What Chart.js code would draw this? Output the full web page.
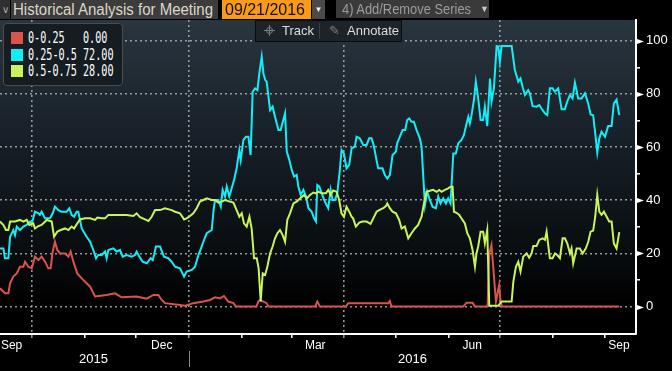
<!DOCTYPE html>
<html>
<head>
<meta charset="utf-8">
<script src="https://cdn.jsdelivr.net/npm/chart.js@4.4.1/dist/chart.umd.min.js"></script>
<style>
  html, body { margin: 0; padding: 0; background: #000; }
  #wrap { position: relative; width: 672px; height: 371px; overflow: hidden; background: #000;
    font-family: 'Liberation Sans', sans-serif; }
  #chart { position: absolute; left: 0; top: 0; }
  .box { position: absolute; top: 0; height: 19px; line-height: 19px; white-space: nowrap; overflow: hidden; }
  .fit { display: inline-block; white-space: nowrap; transform-origin: 0 50%; }
  #chev { left: 0; width: 10px; background: #2f2f2f; color: #aaa; font-size: 10px; text-align: center; }
  #title { left: 11px; width: 205px; background: #3c3c3c; color: #ddd7c9; font-size: 16px; padding-left: 2px; }
  #date { left: 222px; width: 86px; background: #f99a1c; color: #111; font-size: 16px; padding-left: 3px; }
  #drop { left: 312px; width: 13px; background: #4a4a4a; color: #eee; font-size: 8px; text-align: center; }
  #series { left: 336px; width: 147px; height: 18px; line-height: 18px; background: #3a3a3a; color: #9c9c9c; font-size: 15px; padding-left: 6px; }
  #seriesArrow { position: absolute; left: 144px; top: 0; font-size: 9px; color: #c8c8c8; }
  #tools { position: absolute; left: 255px; top: 20px; width: 145px; height: 20px; background: #1c242a;
    border: 1px solid #0b0b0b; color: #dcdcdc; font-size: 13px; line-height: 20px; }
  #tools span { position: absolute; top: 0; }
  #cross { position: absolute; left: 8px; top: 4px; width: 11px; height: 11px; }
  #cross::before { content: ''; position: absolute; left: 5px; top: 0; width: 1px; height: 11px; background: #7c7c7c; }
  #cross::after { content: ''; position: absolute; left: 0; top: 5px; width: 11px; height: 1px; background: #7c7c7c; }
  #ring { position: absolute; left: 2px; top: 2px; width: 5px; height: 5px; border: 1px solid #7c7c7c; border-radius: 50%; }
  #pencil { color: #7c7c7c; }
  #sep { position: absolute; left: 63px; top: 2px; width: 1px; height: 16px; background: #3a4248; }
  #legend { position: absolute; left: 3px; top: 23px; width: 118px; height: 61px; background: #151c22;
    border: 1px solid #4d4d4d; border-radius: 4px; color: #fff; font-family: 'DejaVu Sans Mono', monospace; font-size: 15px; }
  .row { position: absolute; left: 0; height: 16px; line-height: 16px; width: 118px; }
  .sw { position: absolute; left: 7px; top: 2px; width: 12px; height: 12px; }
  .nm { position: absolute; left: 24px; }
  .vl { position: absolute; left: 79px; }
</style>
</head>
<body>
<div id="wrap">
  <canvas id="chart" width="672" height="371"></canvas>
  <div class="box" id="chev">∨</div>
  <div class="box" id="title"><span class="fit" id="titleText">Historical Analysis for Meeting</span></div>
  <div class="box" id="date"><span class="fit" id="dateText">09/21/2016</span></div>
  <div class="box" id="drop">▼</div>
  <div class="box" id="series"><span class="fit" id="seriesText">4) Add/Remove Series</span><span id="seriesArrow">▼</span></div>
  <div id="tools">
    <div id="cross"><div id="ring"></div></div><span style="left:26px">Track</span>
    <div id="sep"></div>
    <span id="pencil" style="left:73px">✎</span><span style="left:91px">Annotate</span>
  </div>
  <div id="legend"></div>
</div>
<script>
// days counted from 2015-09-01
const DAY0 = Date.UTC(2015, 8, 1);
const dayOf = (y, m, d) => (Date.UTC(y, m - 1, d) - DAY0) / 864e5;

const X_MIN = 11.2;
const X_MAX = 384;
const Y_MIN = -10.3;
const Y_MAX = 107.8;

const seriesNames = ['0-0.25', '0.25-0.5', '0.5-0.75'];
const lastValues = ['0.00', '72.00', '28.00'];
const seriesColors = ['#dc534c', '#12eef8', '#c8f55a'];

const monthLabels = ['Sep', 'Dec', 'Mar', 'Jun', 'Sep'];
const monthLabelDays = [18, 106, 196, 288, 374];
const yearLabels = ['2015', '2016'];
const yearLabelDays = [66, 253];
const yTicks = [0, 10, 20, 30, 40, 50, 60, 70, 80, 90, 100];

// probability (%) per rate range, [day, value]
const lowRange = [
  [11.2, 6.9], [14.1, 5.0], [16.1, 5.0], [17.1, 8.8], [19, 11.3], [21, 12.5], [22.9, 15], [24.9, 15],
  [25.9, 16.9], [27.8, 15], [29.8, 14.4], [31.7, 18.8], [33.7, 17.5], [35.6, 18.8], [37.6, 16.9],
  [39.5, 14.4], [40.9, 14.4], [41.9, 20], [43.4, 24.4], [44.8, 21.3], [46.4, 20], [49.3, 20],
  [51.3, 18.8], [52.6, 20.7], [54.2, 16.9], [56.5, 12.5], [59.1, 10.6], [64, 7.5], [66.9, 3.8],
  [73.7, 4.4], [78.6, 5.0], [82.5, 3.5], [91.3, 3.8], [97.2, 3.0], [101.1, 4.4], [104, 4.4],
  [106, 2.5], [107.9, 1.3], [116.7, 0.6], [119.7, 0.3], [124.5, 1.3], [130.4, 1.9], [134.3, 2.5],
  [137.2, 3.5], [140.2, 3.1], [142.5, 4.0], [145, 1.9], [148, 1.3], [149.5, 0], [161.5, 0],
  [162.6, 1.9], [163.6, 2.5], [167.5, 1.3], [168.5, 0], [196, 0], [197.2, 1.9], [198.8, 0],
  [214, 0], [215.3, 1.3], [238.8, 1.3], [239.7, 2.1], [240.7, 0], [282.7, 0], [284.7, 1.5],
  [288.2, 1.5], [289.6, 0], [297, 0], [298, 20], [299.3, 23.2], [301.9, 1.9], [303.8, 8.1],
  [304.6, 1.9], [305.4, 0], [374.2, 0]
];

const midRange = [
  [11.2, 21.9], [13.2, 21.9], [14.1, 18.2], [16.1, 18.2], [17.1, 26.3], [19, 28.8], [20, 26.9],
  [21, 30.1], [22.9, 28.8], [24.9, 30.1], [26.8, 30.7], [28.8, 32], [29.8, 31.3], [30.7, 33.2],
  [31.7, 35.7], [33.7, 35.1], [34.6, 34.5], [35.6, 35.7], [37.6, 33.2], [40.5, 33.2], [42.1, 35.1],
  [43.4, 37.6], [45.4, 36.3], [47.3, 35.7], [50.3, 35.7], [51.8, 37], [53.2, 34.5], [54.6, 33.8],
  [56.1, 35.7], [57.1, 35.7], [59.1, 29.4], [62, 26.3], [64, 24.4], [65.9, 21.3], [67.5, 18.2],
  [68.8, 19.4], [70.8, 19.4], [72.8, 20.7], [73.7, 18.2], [74.7, 21.3], [77.6, 21.9], [79.6, 20.7],
  [81.5, 21.3], [83.1, 18.8], [85.4, 19.4], [88.4, 18.8], [90.3, 19.4], [91.3, 20.7], [92.9, 18.8],
  [94.8, 16.9], [97.2, 16.3], [99.5, 18.2], [100.7, 17.5], [101.5, 19.4], [102.6, 22.6], [105, 22.6],
  [107.3, 18.8], [109.9, 18.2], [111.8, 16.9], [113.8, 15], [116.7, 14.4], [119.1, 11.3],
  [120.6, 13.2], [123.6, 13.8], [125.5, 15], [127.5, 19.4], [129.4, 22.6], [130.4, 24.4],
  [132.4, 27.6], [135.3, 28.8], [136.3, 35.7], [137.2, 40.1], [139.2, 40.1], [140.6, 37.6],
  [141.7, 43.9], [143.1, 41.4], [144.1, 45.1], [145.6, 41.4], [147, 44.5], [148.4, 47.6],
  [149.9, 52], [151.5, 58.9], [152.3, 55.1], [153.9, 62.7], [155.4, 63.9], [156.8, 63.9],
  [158.1, 57], [159.3, 80.8], [160.7, 82.1], [162.1, 81.4], [163.2, 87.7], [164.6, 94],
  [165.6, 87.7], [166.7, 85.2], [167.5, 84.6], [169.5, 73.9], [171, 75.2], [172.4, 71.4],
  [174.4, 66.4], [175.7, 66.4], [178.3, 72.7], [179.3, 58.3], [180.8, 55.1], [182.2, 51.4],
  [183.6, 48.9], [185.1, 49.5], [186.1, 45.1], [187.5, 42], [189, 43.9], [190.6, 41.4], [192, 37],
  [193.9, 35.7], [195.3, 33.2], [196.4, 32], [197.2, 45.7], [198.4, 45.1], [199.8, 42.6],
  [201.6, 39.5], [203.6, 37], [205, 43.9], [206.1, 40.1], [207.5, 40.1], [208.9, 42.6],
  [210.4, 51.4], [211.4, 58.9], [212.8, 57.6], [214.3, 52], [215.9, 53.3], [217.3, 59.5],
  [219.2, 60.2], [220.2, 63.9], [222.1, 63.3], [224.1, 60.8], [226.1, 60.8], [227.6, 63.3],
  [229, 63.3], [230.4, 60.2], [231.9, 55.1], [232.9, 52], [235.4, 52], [236.8, 49.5], [238.2, 48.2],
  [239.7, 49.5], [241.3, 57], [243.3, 58.3], [244, 61.4], [245.6, 63.9], [247.2, 66.4],
  [248.7, 66.4], [249.9, 70.2], [251.1, 70.8], [252.4, 69.5], [253.8, 69.5], [255.4, 66.4],
  [257.3, 63.3], [258.3, 60.2], [259.3, 48.9], [260.3, 38.2], [261.6, 43.2], [263.2, 40.1],
  [264.7, 37.6], [266.7, 37], [268.1, 41.4], [269.4, 38.8], [271, 40.7], [272.6, 38.8],
  [273.9, 40.7], [275.3, 38.8], [276.9, 57.6], [278.4, 57.6], [279.8, 61.4], [281.7, 62.7],
  [283.1, 64.5], [284.7, 68.9], [285.7, 71.4], [286.6, 68.9], [287.6, 72], [289, 77.7],
  [290.1, 84.6], [291.5, 78.3], [292.9, 70.2], [294.4, 70.2], [295.4, 75.2], [296.8, 67.9],
  [298.4, 85.8], [299.3, 77.1], [300.7, 82.1], [302.3, 98], [303.2, 97.8], [304.2, 92.1],
  [305.2, 98], [311.1, 98], [313, 89], [315, 84.6], [316.3, 85.8], [317.5, 82.7], [318.9, 79.6],
  [320.8, 81.4], [321.8, 80.2], [323.4, 75.4], [325.7, 75.2], [327.3, 75.8], [328.6, 74.5],
  [330.6, 72.7], [332, 72], [333.5, 82.1], [335.1, 82.1], [336.5, 80.8], [338.4, 82.1],
  [340.4, 74.2], [342.3, 74.2], [343.7, 77.1], [345.3, 79.6], [346.8, 78.3], [348.2, 84.2],
  [350.1, 78.3], [352.1, 78.3], [354.1, 80.2], [356, 76.4], [357.4, 72.3], [358.9, 72],
  [360.1, 65.2], [361.3, 57.9], [362.5, 63.3], [363.8, 65.8], [365.8, 63.9], [367.7, 67.9],
  [369.7, 67.9], [371, 76.4], [372.6, 77.9], [374.2, 72]
];

const highRange = [
  [11.2, 32], [13.2, 30.7], [14.7, 28.8], [16.1, 28.8], [17.1, 32], [20, 32], [22.9, 32.6],
  [24.9, 32], [26.8, 32.6], [28.4, 30.7], [30.7, 31.3], [31.7, 29.4], [33.7, 30.3], [35.6, 30.7],
  [38.6, 32.6], [41.5, 32], [42.9, 26.3], [44.8, 28.2], [46.8, 28.8], [49.3, 29.4], [51.3, 28.8],
  [53.2, 30.1], [54.6, 29.4], [56.5, 31.3], [58.1, 32.8], [61, 33.2], [64, 33.2], [66.9, 32.6],
  [68.3, 33.5], [70.8, 33.2], [72.8, 33.2], [74.7, 34.5], [77.6, 34.5], [81.5, 34.5], [85.4, 34.5],
  [89.4, 34.1], [91.3, 35.1], [93.3, 33.6], [96.2, 32.8], [98.2, 32.2], [100.1, 33.8],
  [102.1, 36.3], [105, 36.3], [107.9, 37], [111.8, 36.3], [113.8, 35.7], [116.7, 35.1],
  [119.1, 32.8], [120.6, 33.2], [122.6, 34.1], [124.5, 35.1], [126.5, 37], [128.4, 39.5],
  [130.4, 40.1], [132.4, 40.7], [135.3, 40.1], [137.2, 40.1], [139.2, 39.1], [141.1, 39.5],
  [143.1, 40.1], [146, 39.5], [148, 39.1], [149.9, 36.3], [151.5, 33.8], [152.9, 35.1],
  [154.2, 31.3], [155.8, 30.1], [157.4, 33.8], [158.7, 29.4], [160.1, 18.2], [161.7, 18.2],
  [162.8, 14.4], [164, 1.9], [165.2, 12.5], [166.6, 11.9], [167.9, 15], [169.5, 20], [171, 22.6],
  [172.4, 25.7], [173.8, 27.6], [175.3, 28.8], [176.9, 26.9], [178.3, 24.4], [179.6, 32.6],
  [181.2, 35.1], [183.2, 38.8], [185.1, 39.5], [187.1, 40.7], [189.4, 42], [191, 40.7], [192.9, 42],
  [194.9, 42.9], [196.4, 42.6], [197.8, 43.2], [199.8, 42.6], [202.2, 42.6], [203.6, 43.9],
  [205, 42.1], [206.5, 43.7], [208.5, 43.2], [210, 40.1], [211.4, 35.1], [212.8, 33.8],
  [214.3, 37.6], [215.9, 35.7], [217.3, 33.8], [218.2, 33.2], [219.8, 30.1], [221.8, 31.6],
  [223.7, 32], [226.1, 32], [228.4, 31.1], [230, 33.2], [231.9, 35.7], [234.3, 36.6], [235.8, 37],
  [237.4, 37.8], [238.2, 38.8], [239.7, 37], [241.3, 35.7], [243.3, 35.1], [245.2, 32.6],
  [246.6, 29.4], [248.5, 30.1], [250.5, 25.7], [252.4, 27.6], [254.4, 29.4], [256.3, 30.7],
  [258.3, 33.8], [259.7, 38.8], [261.2, 43.2], [263.2, 43.6], [265.1, 43.9], [267.1, 43.2],
  [268.7, 43.9], [270, 43.2], [272, 43.9], [273.9, 44.5], [275.3, 45.1], [276.5, 45.1],
  [277.3, 35.7], [278.8, 35.3], [280.4, 34.5], [282.3, 32.6], [283.7, 31.3], [285.1, 27.6],
  [286.6, 25.7], [288.2, 21.3], [289.6, 15], [290.5, 20], [291.5, 22.6], [292.9, 28.2],
  [294.4, 28.2], [295.4, 23.8], [296.8, 28.8], [298, 0.3], [303.2, 0.3], [305.2, 1.9], [311.1, 1.9],
  [312.1, 9.4], [313.6, 15], [315, 16.9], [316.3, 13.2], [317.9, 18.8], [319.9, 20], [321.4, 18.4],
  [322.8, 20], [323.8, 22.8], [325.7, 22.8], [327.3, 25.1], [329.2, 25.7], [330.6, 25.1],
  [331.6, 28.2], [333.5, 18.2], [335.1, 18.2], [336.5, 20], [337.8, 19.4], [339.4, 18.2],
  [341, 25.7], [342.3, 25.7], [343.7, 23.8], [345.3, 20], [346.2, 21.9], [347.2, 16.3],
  [349.2, 21.9], [351.1, 21.9], [352.7, 20], [354.6, 21.9], [356, 24.4], [357.4, 28.2],
  [358.9, 28.6], [360.1, 33.8], [361.3, 42], [362.5, 35.7], [363.8, 34.5], [365.2, 35.7],
  [366.8, 33.8], [368.3, 32], [369.7, 32], [371, 23.8], [372.6, 21.9], [374.2, 28]
];

const FONT = "'Liberation Sans', sans-serif";
const GRID = 'rgba(165, 165, 165, 0.9)';

// month boundaries Oct 2015 .. Sep 2016, gridlines on quarter starts
const monthStarts = [];
for (let i = 1; i <= 12; i++) monthStarts.push(dayOf(2015, 9 + i, 1));
const quarterStarts = [dayOf(2015, 10, 1), dayOf(2016, 1, 1), dayOf(2016, 4, 1), dayOf(2016, 7, 1)];
const yearBreak = dayOf(2016, 1, 1);

// squeeze text to the narrow terminal look
function fitWidth(el, target) {
  const w = el.getBoundingClientRect().width;
  el.style.transform = `scaleX(${target / w})`;
}

// legend
const legend = document.getElementById('legend');
const legendSpans = [];
seriesNames.forEach((name, i) => {
  const row = document.createElement('div');
  row.className = 'row';
  row.style.top = (6 + i * 16.5) + 'px';
  row.innerHTML = `<div class="sw" style="background:${seriesColors[i]}"></div>` +
    `<span class="nm fit">${name}</span><span class="vl fit">${lastValues[i]}</span>`;
  legend.appendChild(row);
  legendSpans.push(...row.querySelectorAll('.fit'));
});
const legendScale = 49 / legendSpans[4].getBoundingClientRect().width;
legendSpans.forEach(s => { s.style.transform = `scaleX(${legendScale})`; });

fitWidth(document.getElementById('titleText'), 200);
fitWidth(document.getElementById('dateText'), 80);
fitWidth(document.getElementById('seriesText'), 129);

const toPoints = arr => arr.map(([x, y]) => ({ x, y }));

const plotBackground = {
  id: 'plotBackground',
  beforeDraw(chart) {
    const { ctx, chartArea: a } = chart;
    const g = ctx.createLinearGradient(0, a.top, 0, a.bottom);
    g.addColorStop(0, '#29353f');
    g.addColorStop(0.45, '#141c23');
    g.addColorStop(0.78, '#070a0c');
    g.addColorStop(0.9, '#000');
    ctx.save();
    ctx.fillStyle = g;
    ctx.fillRect(a.left, a.top, a.right - a.left, a.bottom - a.top);
    ctx.restore();
  }
};

const axisMarks = {
  id: 'axisMarks',
  afterDraw(chart) {
    const { ctx } = chart;
    const y = chart.scales.y;
    ctx.save();
    ctx.fillStyle = '#fff';
    yTicks.filter(v => v % 20 === 0).forEach(v => {
      const py = Math.round(y.getPixelForValue(v)) + 0.5;
      ctx.beginPath();
      ctx.moveTo(y.left + 1, py - 2.5);
      ctx.lineTo(y.left + 8, py);
      ctx.lineTo(y.left + 1, py + 2.5);
      ctx.closePath();
      ctx.fill();
    });
    // separator between years
    const xy = chart.scales.xYear;
    const px = Math.round(xy.getPixelForValue(yearBreak)) + 0.5;
    ctx.strokeStyle = '#8a8a8a';
    ctx.lineWidth = 1;
    ctx.beginPath();
    ctx.moveTo(px, xy.top - 1);
    ctx.lineTo(px, xy.bottom - 4);
    ctx.stroke();
    ctx.restore();
  }
};

new Chart(document.getElementById('chart'), {
  type: 'line',
  data: {
    datasets: [
      { label: seriesNames[0], data: toPoints(lowRange), borderColor: seriesColors[0], order: 3 },
      { label: seriesNames[1], data: toPoints(midRange), borderColor: seriesColors[1], order: 2 },
      { label: seriesNames[2], data: toPoints(highRange), borderColor: seriesColors[2], order: 1 }
    ]
  },
  options: {
    responsive: false,
    devicePixelRatio: 1,
    animation: false,
    events: [],
    layout: { padding: { top: 20, left: 0, right: 0, bottom: 0 } },
    elements: {
      line: { borderWidth: 2, tension: 0 },
      point: { radius: 0 }
    },
    plugins: { legend: { display: false }, tooltip: { enabled: false } },
    scales: {
      x: {
        type: 'linear', position: 'bottom', min: X_MIN, max: X_MAX, weight: 0,
        afterBuildTicks: s => {
          s.ticks = [...monthStarts, ...monthLabelDays].sort((a, b) => a - b).map(v => ({ value: v }));
        },
        afterFit: s => { s.height = 18; },
        ticks: {
          autoSkip: false, maxRotation: 0, color: '#fff', padding: 0,
          font: { family: FONT, size: 12 },
          callback: v => {
            const i = monthLabelDays.indexOf(v);
            return i >= 0 ? monthLabels[i] : '';
          }
        },
        grid: {
          color: c => (c.tick && quarterStarts.includes(c.tick.value)) ? GRID : 'transparent',
          lineWidth: 1.6,
          tickLength: 4,
          tickWidth: 1.5,
          tickBorderDash: [],
          tickColor: c => {
            const v = c.tick && c.tick.value;
            if (quarterStarts.includes(v)) return GRID;
            return monthStarts.includes(v) ? '#fff' : 'transparent';
          }
        },
        border: { color: '#fff', width: 2, dash: [2, 3] }
      },
      xYear: {
        type: 'linear', position: 'bottom', min: X_MIN, max: X_MAX, weight: 1,
        afterBuildTicks: s => { s.ticks = yearLabelDays.map(v => ({ value: v })); },
        afterFit: s => { s.height = 19; },
        ticks: {
          autoSkip: false, maxRotation: 0, color: '#fff', padding: 0,
          font: { family: FONT, size: 13 },
          callback: (v, i) => yearLabels[i]
        },
        grid: { display: false, drawTicks: false },
        border: { display: false }
      },
      y: {
        position: 'right', min: Y_MIN, max: Y_MAX,
        afterBuildTicks: s => { s.ticks = yTicks.map(v => ({ value: v })); },
        afterFit: s => { s.width = 36; },
        ticks: {
          color: '#fff', padding: 6,
          font: { family: FONT, size: 13 },
          callback: v => v % 20 === 0 ? String(v) : ''
        },
        grid: {
          color: c => (c.tick && c.tick.value % 20 === 0) ? GRID : 'transparent',
          lineWidth: 1.6,
          tickLength: 4,
          tickWidth: 1.5,
          tickBorderDash: [],
          tickColor: c => (c.tick && c.tick.value % 20 !== 0) ? '#fff' : 'transparent'
        },
        border: { color: '#fff', width: 2, dash: [2, 3] }
      }
    }
  },
  plugins: [plotBackground, axisMarks]
});
</script>
</body>
</html>
